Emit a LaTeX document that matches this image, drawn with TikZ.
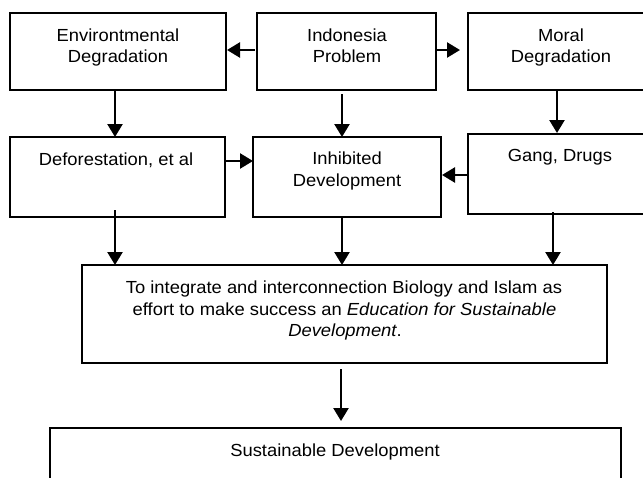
\documentclass[tikz,border=0pt]{standalone}
\usepackage{fontspec}
\setmainfont{Liberation Sans}[FakeStretch=1.05]
\usetikzlibrary{arrows.meta,calc}
\newcommand\diagfont{\fontsize{17.5}{21.5}\selectfont}
\begin{document}
\begin{tikzpicture}[x=1pt,y=-1pt,
  box/.style={draw,line width=2.7pt,inner sep=0pt,outer sep=0pt,anchor=north west},
  txt/.style={anchor=base,inner sep=0pt,outer sep=0pt,font=\diagfont},
  arr/.style={-{Triangle[width=15pt,length=13pt]},line width=2.5pt}]
\useasboundingbox (0,0) rectangle (643,477);
\clip (0,0) rectangle (643,477);
% boxes
\node[box,minimum width=216pt,minimum height=77pt] (env) at (10,13) {};
\node[box,minimum width=179pt,minimum height=77pt] (ind) at (257,13) {};
\node[box,minimum width=187pt,minimum height=77pt] (moral) at (468,13) {};
\node[box,minimum width=215pt,minimum height=80pt] (defor) at (10,137) {};
\node[box,minimum width=188pt,minimum height=80pt] (inh) at (253,137) {};
\node[box,minimum width=187pt,minimum height=80pt] (gang) at (468,134) {};
\node[box,minimum width=525pt,minimum height=98pt] (big) at (82,265) {};
\node[box,minimum width=571pt,minimum height=82pt] (sd) at (50,428) {};
% texts
\node[txt] (envA) at (118,41.7) {Environtmental};
\node[txt] (envB) at (118,62.7) {Degradation};
\node[txt] (indA) at (347,41.7) {Indonesia};
\node[txt] (indB) at (347,62.7) {Problem};
\node[txt] (morA) at (561,41.7) {Moral};
\node[txt] (morB) at (561,62.7) {Degradation};
\node[txt] (defA) at (116,165) {Deforestation, et al};
\node[txt] (inhA) at (347,164.5) {Inhibited};
\node[txt] (inhB) at (347,186) {Development};
\node[txt] (gangA) at (560,161) {Gang, Drugs};
\node[txt] (bigA) at (344,293.5) {To integrate and interconnection Biology and Islam as};
\node[txt] (bigB) at (344.5,315) {effort to make success an \textit{Education for Sustainable}};
\node[txt] (bigC) at (345,336.5) {\textit{Development}.};
\node[txt] (sdA) at (335,456) {Sustainable Development};
% connectors
\draw[arr] ($(ind.west)+(-2,-1.5)$) -- ($(env.east)+(1,-1.5)$);
\draw[arr] ($(ind.east)+(0,-1.5)$) -- ($(moral.west)+(-8,-1.5)$);
\draw[arr] ($(env.south)+(-3,0)$) -- ($(env.south |- defor.north)+(-3,0)$);
\draw[arr] ($(ind.south)+(-4.5,4)$) -- ($(ind.south |- inh.north)+(-4.5,0)$);
\draw[arr] ($(moral.south)+(-4.5,0)$) -- ($(moral.south |- gang.north)+(-4.5,-1)$);
\draw[arr] ($(defor.east)+(0,-16)$) -- ($(defor.east -| inh.west)+(0,-16)$);
\draw[arr] ($(gang.west)+(0,1)$) -- ($(gang.west -| inh.east)+(1,1)$);
\draw[arr] ($(defor.south)+(-2.5,-7)$) -- ($(defor.south |- big.north)+(-2.5,0)$);
\draw[arr] ($(inh.south)+(-5,0)$) -- ($(inh.south |- big.north)+(-5,0)$);
\draw[arr] ($(gang.south)+(-8.5,-2)$) -- ($(gang.south |- big.north)+(-8.5,0)$);
\draw[arr] ($(big.south)+(-3.5,6)$) -- ($(big.south |- sd.north)+(-3.5,-7)$);
\end{tikzpicture}
\end{document}
